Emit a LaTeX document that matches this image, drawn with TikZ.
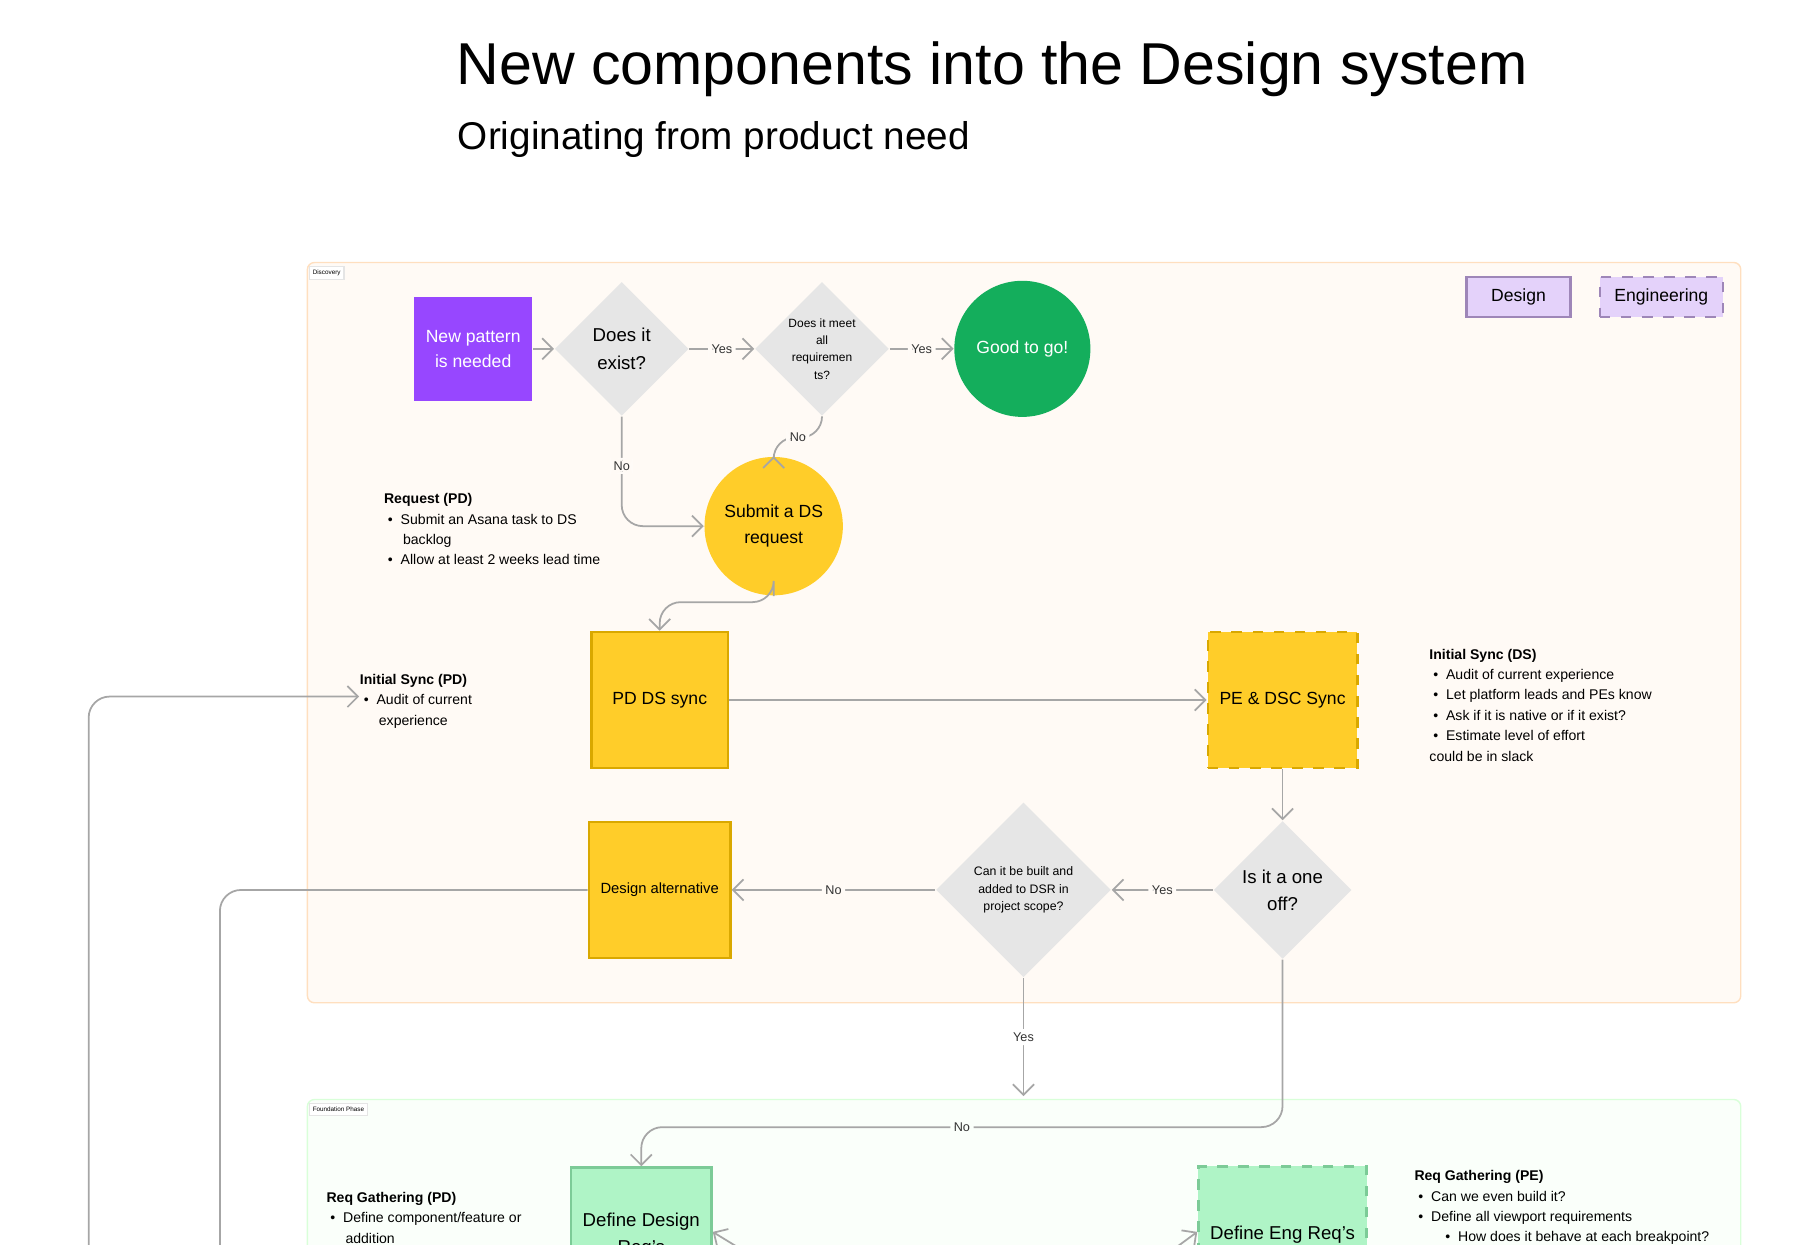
\documentclass[tikz,border=0pt]{standalone}
\usepackage{fontspec}
\setmainfont{Liberation Sans}
\usetikzlibrary{positioning, arrows.meta, shapes.geometric}
\definecolor{lineg}{HTML}{A6A6A6}
\definecolor{diag}{HTML}{E6E6E6}
\definecolor{dsyellow}{HTML}{FFCD29}
\definecolor{dsedge}{HTML}{D9A800}
\definecolor{dsgreen}{HTML}{AFF4C6}
\definecolor{dsgedge}{HTML}{7CCB97}
\definecolor{dspurple}{HTML}{9747FF}
\definecolor{dsgo}{HTML}{14AE5C}
\definecolor{legfill}{HTML}{E4D2FA}
\definecolor{legedge}{HTML}{9E86B8}
\newcommand{\fs}[1]{\fontsize{#1pt}{\dimexpr#1pt*29/20\relax}\selectfont}

\begin{document}
\begin{tikzpicture}[x=0.01151cm, y=-0.01151cm, >={Straight Barb[length=3pt]},
    flow/.style={->, draw=lineg, line width=.5pt, rounded corners=6pt},
    lbl/.style={fill=orange!3, inner sep=1pt, font=\fs{3.6}, text=black!80},
    box/.style={draw=dsedge, line width=.7pt, fill=dsyellow, minimum size=1.36cm, font=\fs{5}, align=center},
    gbox/.style={draw=dsgedge, line width=.7pt, fill=dsgreen, minimum width=1.36cm, minimum height=1.36cm, font=\fs{5.3}, align=center},
    dia/.style={diamond, fill=diag, minimum size=1.34cm, font=\fs{5.3}, align=center, inner sep=0pt},
    note/.style={anchor=north west, align=left, font=\fs{4}, inner sep=0pt}]
    \useasboundingbox (0,0) rectangle (1560,1080.6);
    \clip (0,0) rectangle (1560,1080.6);

    % titles
    \node[anchor=west, font=\fs{16.8}] (title) at (386,60) {New components into the Design system};
    \node[anchor=west, font=\fs{11}] (subtitle) at (387,121) {Originating from product need};

    % phases
    \draw[orange!25, fill=orange!4, rounded corners=2pt] (267,228) rectangle (1512,871);
    \node[draw=black!10, fill=white, font=\fs{1.8}, inner sep=1pt, anchor=north west] (discovery) at (268,231) {Discovery};
    \draw[green!15, fill=green!2!white, rounded corners=2pt] (267,955) rectangle (1512,1200);
    \node[draw=black!10, fill=white, font=\fs{1.8}, inner sep=1pt, anchor=north west] (foundation) at (268,958) {Foundation Phase};

    % legend
    \node[draw=legedge, line width=.7pt, fill=legfill, minimum width=1.04cm, minimum height=.33cm, font=\fs{5}] (design) at (1319,258) {Design};
    \node[draw=legedge, dashed, line width=.7pt, fill=legfill, minimum width=1.23cm, minimum height=.33cm, font=\fs{5}] (eng) at (1443,258) {Engineering};

    % discovery nodes
    \node[fill=dspurple, text=white, minimum size=1.04cm, font=\fs{5}, align=center] (newpat) at (411,303) {New pattern\\is needed};
    \node[dia] (exist) at (540,303) {Does it\\exist?};
    \node[dia, font=\fs{3.4}] (meet) at (714,303) {Does it meet\\all\\requiremen\\ts?};
    \node[circle, fill=dsgo, text=white, minimum size=1.36cm, font=\fs{5}] (good) at (888,303) {Good to go!};
    \node[circle, fill=dsyellow, minimum size=1.29cm, font=\fs{5}, align=center] (submit) at (672,457) {Submit a DS\\request};
    \node[box] (pdds) at (573,608) {PD DS sync};
    \node[box, dashed] (pedsc) at (1114,608) {PE \& DSC Sync};
    \node[dia, minimum size=1.38cm] (oneoff) at (1114,773) {Is it a one\\off?};
    \node[dia, minimum size=1.75cm, font=\fs{3.5}] (built) at (889,773) {Can it be built and\\added to DSR in\\project scope?};
    \node[box, font=\fs{4.2}] (alt) at (573,773) {Design alternative};

    % foundation nodes
    \node[gbox, anchor=north] (defdes) at (557,1013) {Define Design\\Req's};
    \node[gbox, dashed, anchor=north] (defeng) at (1114,1012) {Define Eng Req's};

    % notes
    \node[note] (reqpd) at (333,428) {\textbf{Request (PD)}\\
      \ \textbullet\ \ Submit an Asana task to DS\\ \hspace{1.35em}backlog\\
      \ \textbullet\ \ Allow at least 2 weeks lead time};
    \node[note] (syncpd) at (312,585) {\textbf{Initial Sync (PD)}\\
      \ \textbullet\ \ Audit of current\\ \hspace{1.35em}experience};
    \node[note] (syncds) at (1241,563) {\textbf{Initial Sync (DS)}\\
      \ \textbullet\ \ Audit of current experience\\
      \ \textbullet\ \ Let platform leads and PEs know\\
      \ \textbullet\ \ Ask if it is native or if it exist?\\
      \ \textbullet\ \ Estimate level of effort\\
      could be in slack};
    \node[note] (reqgpd) at (283,1035) {\textbf{Req Gathering (PD)}\\
      \ \textbullet\ \ Define component/feature or\\ \hspace{1.35em}addition\\
      \ \textbullet\ \ Define scope of work and};
    \node[note] (reqgpe) at (1228,1016) {\textbf{Req Gathering (PE)}\\
      \ \textbullet\ \ Can we even build it?\\
      \ \textbullet\ \ Define all viewport requirements\\
      \hspace{2.2em}\textbullet\ \ How does it behave at each breakpoint?\\
      \ \textbullet\ \ Define all necessary states (active, inactive};

    % free ends
    \coordinate (altend) at (191,1110);
    \coordinate (syncstart) at (77,1110);
    \coordinate (desin) at (655,1092);
    \coordinate (engin) at (1010,1092);

    % connectors
    \draw[flow] (newpat) -- (exist);
    \draw[flow] (exist) -- node[lbl] {Yes} (meet);
    \draw[flow] (meet) -- node[lbl] {Yes} (good);
    \draw[flow] (exist.south) -- (540,457) node[lbl, pos=.45] {No} -- (submit.west);
    \draw[flow] (meet.south) -- (714,380) -- node[lbl] {No} (672,380) -- (submit.north);
    \draw[flow] (submit.south) -- (672,523) -- (573,523) -- (pdds.north);
    \draw[flow] (pdds) -- (pedsc);
    \draw[flow] (pedsc) -- (oneoff);
    \draw[flow] (oneoff) -- node[lbl] {Yes} (built);
    \draw[flow] (built) -- node[lbl] {No} (alt);
    \draw[flow] (built.south) -- node[lbl, fill=white] {Yes} (889,952);
    \draw[flow] (oneoff.south) -- (1114,979) -- node[lbl, fill=green!2!white] {No} (557,979) -- (defdes.north);
    \draw[draw=lineg, line width=.5pt, rounded corners=6pt] (alt.west) -- (191,773) -- (altend);
    \draw[flow] (syncstart) -- (77,605) -- (syncpd.west |- 0,605);
    \draw[flow] (desin) -- (defdes.east |- 0,1070);
    \draw[flow] (engin) -- (defeng.west |- 0,1070);
\end{tikzpicture}
\end{document}
